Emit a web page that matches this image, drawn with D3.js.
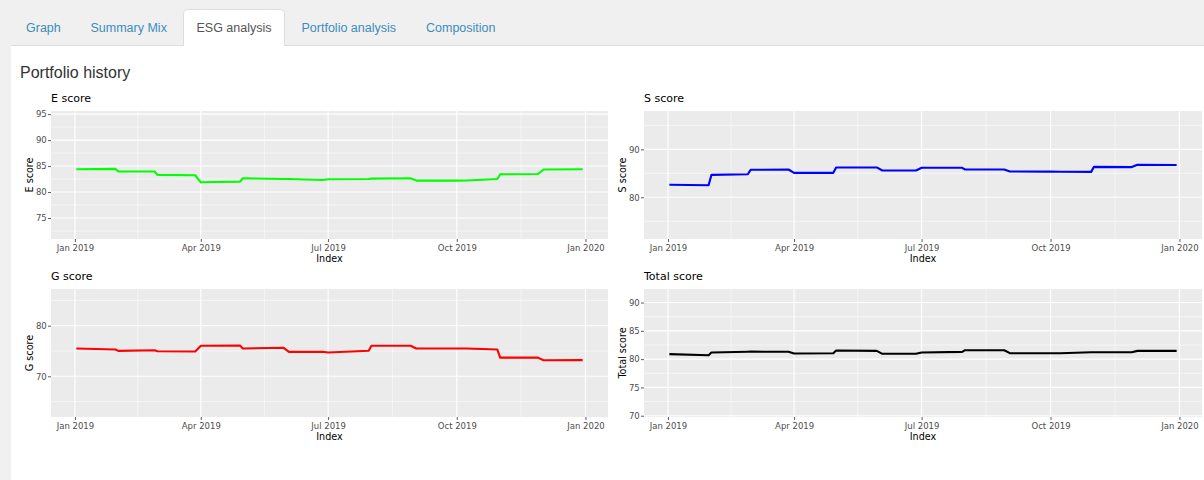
<!DOCTYPE html>
<html>
<head>
<meta charset="utf-8">
<script src="https://cdn.jsdelivr.net/npm/d3@7"></script>
<style>
  body { margin: 0; background: #f0f0f0; overflow: hidden; }
  svg { display: block; }
</style>
</head>
<body>
<div id="page"></div>
<script>
// ---- data ----
var tabs = ["Graph", "Summary Mix", "ESG analysis", "Portfolio analysis", "Composition"];

var dates = ["2019-01-02","2019-01-30","2019-02-01","2019-02-27","2019-03-01","2019-03-28",
  "2019-04-01","2019-04-29","2019-05-01","2019-05-30","2019-06-03","2019-06-27","2019-07-01",
  "2019-07-30","2019-08-01","2019-08-29","2019-09-02","2019-09-27","2019-10-01","2019-10-08",
  "2019-10-30","2019-11-01","2019-11-28","2019-12-02","2019-12-30"];

var eScore = [84.4,84.45,83.96,83.96,83.3,83.23,81.87,82.0,82.65,82.52,82.5,82.33,82.46,
  82.52,82.58,82.65,82.2,82.2,82.2,82.22,82.52,83.42,83.47,84.35,84.4];
var sScore = [82.63,82.5,84.67,84.81,85.73,85.8,85.1,85.1,86.23,86.23,85.58,85.58,86.15,
  86.15,85.8,85.8,85.38,85.36,85.35,85.34,85.3,86.35,86.3,86.8,86.75];
var gScore = [75.5,75.3,75.02,75.15,74.96,74.9,76.03,76.1,75.5,75.65,74.83,74.85,74.69,
  75.05,76.03,76.03,75.5,75.5,75.5,75.5,75.3,73.7,73.7,73.16,73.2];
var totalScore = [80.88,80.7,81.17,81.3,81.32,81.3,80.99,81.05,81.52,81.46,80.94,80.94,81.17,
  81.29,81.58,81.58,81.05,81.05,81.05,81.05,81.23,81.23,81.23,81.46,81.46];

var xBreaks = ["2019-01-01","2019-04-01","2019-07-01","2019-10-01","2020-01-01"];
var xLabels = ["Jan 2019","Apr 2019","Jul 2019","Oct 2019","Jan 2020"];

var eTicks = [75, 80, 85, 90, 95];
var sTicks = [80, 90];
var gTicks = [70, 80];
var totalTicks = [70, 75, 80, 85, 90];

// ---- page ----
var W = 1204, H = 480;
var svg = d3.select("#page").append("svg")
  .attr("width", W)
  .attr("height", H);

svg.append("rect").attr("width", W).attr("height", H).attr("fill", "#f0f0f0");
svg.append("rect")
  .attr("x", 11).attr("y", 45.5)
  .attr("width", W - 11).attr("height", H - 45)
  .attr("fill", "#fff");
svg.append("line")
  .attr("x1", 11).attr("x2", W).attr("y1", 45.5).attr("y2", 45.5)
  .attr("stroke", "#ddd");

// active tab
svg.append("path")
  .attr("d", "M183.5,46 L183.5,13.5 Q183.5,9.5 187.5,9.5 L280.5,9.5 Q284.5,9.5 284.5,13.5 L284.5,46")
  .attr("fill", "#fff")
  .attr("stroke", "#ddd");

var tabX = [26, 90.5, 196.5, 301.5, 426];
svg.selectAll("text.tab")
  .data(tabs)
  .enter()
  .append("text")
  .attr("class", "tab")
  .attr("x", (d, i) => tabX[i])
  .attr("y", 31.5)
  .attr("font-family", "Liberation Sans, Arial, sans-serif")
  .attr("font-size", "12.5px")
  .attr("fill", d => d == "ESG analysis" ? "#555" : "#3c8dbc")
  .text(d => d);

svg.append("text")
  .attr("x", 20).attr("y", 78)
  .attr("font-family", "Liberation Sans, Arial, sans-serif")
  .attr("font-size", "16px")
  .attr("fill", "#333")
  .text("Portfolio history");

// ---- charts ----
var parse = d3.timeParse("%Y-%m-%d");
var xDates = dates.map(parse);
var ext = d3.extent(xDates);
var pad = (ext[1] - ext[0]) * 0.05;
var xDomain = [new Date(+ext[0] - pad), new Date(+ext[1] + pad)];
var breakDates = xBreaks.map(parse);
var minorDates = d3.pairs(breakDates).map(p => new Date((+p[0] + +p[1]) / 2));

var panels = [
  {title: "E score", values: eScore, ticks: eTicks, color: "#00ff00",
   left: 51, right: 608, top: 111, bottom: 239, yDomain: [70.96, 95.6]},
  {title: "S score", values: sScore, ticks: sTicks, color: "#0000ff",
   left: 644, right: 1202, top: 111, bottom: 239, yDomain: [71.3, 98]},
  {title: "G score", values: gScore, ticks: gTicks, color: "#ff0000",
   left: 51, right: 608, top: 289, bottom: 417, yDomain: [61.96, 87.25]},
  {title: "Total score", values: totalScore, ticks: totalTicks, color: "#000000",
   left: 644, right: 1202, top: 289, bottom: 417, yDomain: [69.77, 92.4]}
];

var chartFont = "DejaVu Sans, Verdana, sans-serif";

panels.forEach(p => {
  var x = d3.scaleTime().domain(xDomain).range([p.left, p.right]);
  var y = d3.scaleLinear().domain(p.yDomain).range([p.bottom, p.top]);
  var g = svg.append("g");

  g.append("rect")
    .attr("x", p.left).attr("y", p.top)
    .attr("width", p.right - p.left).attr("height", p.bottom - p.top)
    .attr("fill", "#ebebeb");

  // minor y grid: midpoints between major ticks (and one step beyond each end)
  var step = p.ticks.length > 1 ? p.ticks[1] - p.ticks[0] : 10;
  var yMinor = [p.ticks[0] - step / 2].concat(p.ticks.map(t => t + step / 2))
    .filter(v => v > p.yDomain[0] && v < p.yDomain[1]);

  g.selectAll(".ymin").data(yMinor).enter().append("line")
    .attr("x1", p.left).attr("x2", p.right)
    .attr("y1", d => y(d)).attr("y2", d => y(d))
    .attr("stroke", "#fff").attr("stroke-width", 0.55);
  g.selectAll(".xmin").data(minorDates).enter().append("line")
    .attr("x1", d => x(d)).attr("x2", d => x(d))
    .attr("y1", p.top).attr("y2", p.bottom)
    .attr("stroke", "#fff").attr("stroke-width", 0.55);
  g.selectAll(".ymaj").data(p.ticks).enter().append("line")
    .attr("x1", p.left).attr("x2", p.right)
    .attr("y1", d => y(d)).attr("y2", d => y(d))
    .attr("stroke", "#fff").attr("stroke-width", 1.1);
  g.selectAll(".xmaj").data(breakDates).enter().append("line")
    .attr("x1", d => x(d)).attr("x2", d => x(d))
    .attr("y1", p.top).attr("y2", p.bottom)
    .attr("stroke", "#fff").attr("stroke-width", 1.1);

  var line = d3.line()
    .x((d, i) => x(xDates[i]))
    .y(d => y(d));
  g.append("path")
    .datum(p.values)
    .attr("d", line)
    .attr("fill", "none")
    .attr("stroke", p.color)
    .attr("stroke-width", 2.1)
    .attr("stroke-linejoin", "round");

  // axes
  var leftAxis = d3.axisLeft(y).tickValues(p.ticks).tickSize(3).tickPadding(1.3)
    .tickFormat(d3.format("d"));
  var bottomAxis = d3.axisBottom(x).tickValues(breakDates).tickSize(3).tickPadding(2.5)
    .tickFormat((d, i) => xLabels[i]);

  var ya = g.append("g").attr("transform", `translate(${p.left},0)`).call(leftAxis);
  var xa = g.append("g").attr("transform", `translate(0,${p.bottom})`).call(bottomAxis);
  [ya, xa].forEach(a => {
    a.select(".domain").remove();
    a.selectAll("line").attr("stroke", "#333").attr("stroke-width", 0.8);
    a.selectAll("text").attr("fill", "#4d4d4d")
      .attr("font-family", chartFont).attr("font-size", "8.5px");
  });

  // titles
  g.append("text")
    .attr("x", p.left).attr("y", p.top - 9)
    .attr("font-family", chartFont).attr("font-size", "11px")
    .attr("fill", "#000")
    .text(p.title);

  g.append("text")
    .attr("x", (p.left + p.right) / 2).attr("y", p.bottom + 23)
    .attr("text-anchor", "middle")
    .attr("font-family", chartFont).attr("font-size", "9.6px")
    .attr("fill", "#000")
    .text("Index");

  g.append("text")
    .attr("transform", `translate(${p.left - 18.5},${(p.top + p.bottom) / 2}) rotate(-90)`)
    .attr("text-anchor", "middle")
    .attr("font-family", chartFont).attr("font-size", "9.6px")
    .attr("fill", "#000")
    .text(p.title);
});
</script>
</body>
</html>
